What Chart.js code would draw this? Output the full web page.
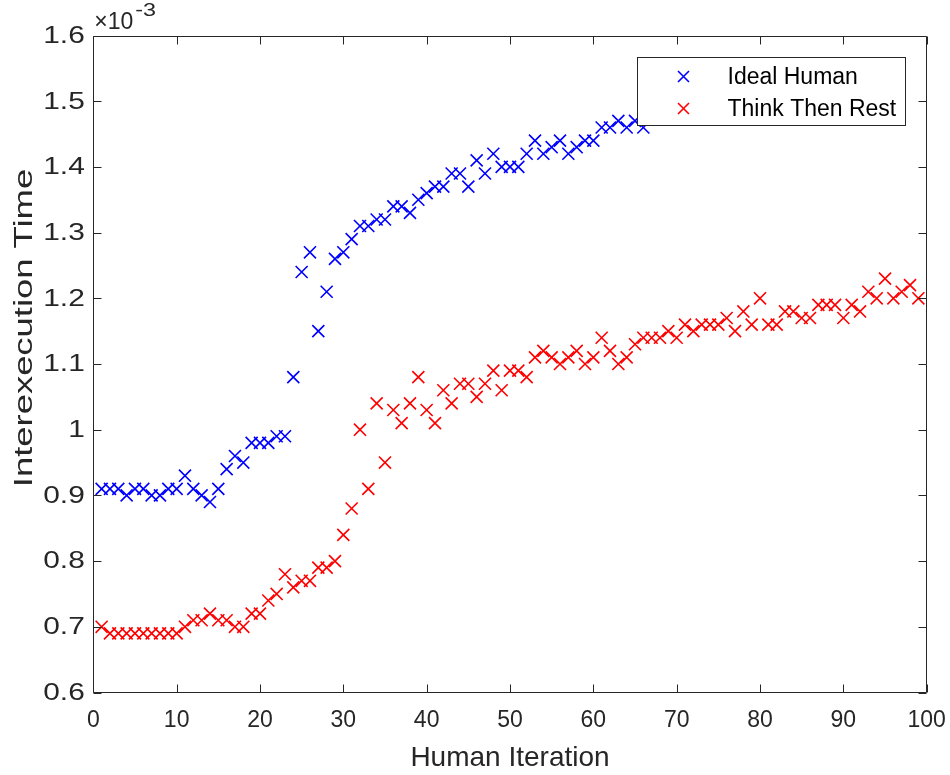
<!DOCTYPE html>
<html>
<head>
<meta charset="utf-8">
<script src="https://cdn.jsdelivr.net/npm/chart.js@4.4.1/dist/chart.umd.min.js"></script>
<style>
html,body{margin:0;padding:0;background:#fff;}
#wrap{width:950px;height:775px;position:relative;}
canvas{display:block;}
</style>
</head>
<body>
<div id="wrap"><canvas id="c" width="950" height="775"></canvas></div>
<script>
// Human iteration index (x)
const iterations = [1,2,3,4,5,6,7,8,9,10,11,12,13,14,15,16,17,18,19,20,
  21,22,23,24,25,26,27,28,29,30,31,32,33,34,35,36,37,38,39,40,
  41,42,43,44,45,46,47,48,49,50,51,52,53,54,55,56,57,58,59,60,
  61,62,63,64,65,66,67,68,69,70,71,72,73,74,75,76,77,78,79,80,
  81,82,83,84,85,86,87,88,89,90,91,92,93,94,95,96,97,98,99];

// Interexecution time, in units of 1e-3
const idealHuman = [0.91,0.91,0.91,0.90,0.91,0.91,0.90,0.90,0.91,0.91,
  0.93,0.91,0.90,0.89,0.91,0.94,0.96,0.95,0.98,0.98,
  0.98,0.99,0.99,1.08,1.24,1.27,1.15,1.21,1.26,1.27,
  1.29,1.31,1.31,1.32,1.32,1.34,1.34,1.33,1.35,1.36,
  1.37,1.37,1.39,1.39,1.37,1.41,1.39,1.42,1.40,1.40,
  1.40,1.42,1.44,1.42,1.43,1.44,1.42,1.43,1.44,1.44,
  1.46,1.46,1.47,1.46,1.47,1.46];

const thinkThenRest = [0.70,0.69,0.69,0.69,0.69,0.69,0.69,0.69,0.69,0.69,
  0.70,0.71,0.71,0.72,0.71,0.71,0.70,0.70,0.72,0.72,
  0.74,0.75,0.78,0.76,0.77,0.77,0.79,0.79,0.80,0.84,
  0.88,1.00,0.91,1.04,0.95,1.03,1.01,1.04,1.08,1.03,
  1.01,1.06,1.04,1.07,1.07,1.05,1.07,1.09,1.06,1.09,
  1.09,1.08,1.11,1.12,1.11,1.10,1.11,1.12,1.10,1.11,
  1.14,1.12,1.10,1.11,1.13,1.14,1.14,1.14,1.15,1.14,
  1.16,1.15,1.16,1.16,1.16,1.17,1.15,1.18,1.16,1.20,
  1.16,1.16,1.18,1.18,1.17,1.17,1.19,1.19,1.19,1.17,
  1.19,1.18,1.21,1.20,1.23,1.20,1.21,1.22,1.20];

const seriesNames = ['Ideal Human', 'Think Then Rest'];
const seriesColors = ['#0000ff', '#ff0000'];
const xTitle = 'Human Iteration';
const yTitle = 'Interexecution Time';
const yExponent = '-3';

const FONT = "'Liberation Sans', Arial, Helvetica, sans-serif";
const AXIS = '#262626';

function toPoints(xs, ys) { return ys.map((v, i) => ({x: xs[i], y: v})); }

const boxPlugin = {
  id: 'matlabBox',
  afterDatasetsDraw(chart) {
    const ctx = chart.ctx;
    const a = chart.chartArea;
    const xs = chart.scales.x, ys = chart.scales.y;
    const L = Math.round(a.left) + 0.5, R = Math.round(a.right) - 0.5;
    const T = Math.round(a.top) + 0.5, B = Math.round(a.bottom) - 0.5;
    const tl = 8;
    ctx.save();
    ctx.strokeStyle = AXIS;
    ctx.lineWidth = 1;
    ctx.beginPath();
    ctx.rect(L, T, R - L, B - T);
    xs.ticks.forEach(t => {
      const p = Math.round(xs.getPixelForValue(t.value)) + 0.5;
      ctx.moveTo(p, B); ctx.lineTo(p, B - tl);
      ctx.moveTo(p, T); ctx.lineTo(p, T + tl);
    });
    ys.ticks.forEach(t => {
      const p = Math.round(ys.getPixelForValue(t.value)) + 0.5;
      ctx.moveTo(L, p); ctx.lineTo(L + tl, p);
      ctx.moveTo(R, p); ctx.lineTo(R - tl, p);
    });
    ctx.stroke();

    // y tick labels (wide glyphs, right-aligned)
    ctx.fillStyle = AXIS;
    ctx.font = '23px ' + FONT;
    ctx.textAlign = 'right';
    ctx.textBaseline = 'middle';
    ys.ticks.forEach(t => {
      const p = ys.getPixelForValue(t.value);
      ctx.save();
      ctx.translate(a.left - 8.5, p + 1);
      ctx.scale(1.3, 1);
      ctx.fillText(t.label, 0, 0);
      ctx.restore();
    });

    // y title (stretched along its length)
    ctx.save();
    ctx.font = '26px ' + FONT;
    ctx.textAlign = 'center';
    ctx.textBaseline = 'middle';
    ctx.translate(25, 328);
    ctx.rotate(-Math.PI / 2);
    ctx.scale(1.4, 1);
    ctx.fillText(yTitle, 0, 0);
    ctx.restore();

    // exponent label
    ctx.textBaseline = 'alphabetic';
    ctx.textAlign = 'left';
    ctx.font = '23px ' + FONT;
    const base = '\u00d710';
    ctx.fillText(base, a.left + 1, a.top - 7);
    const w = ctx.measureText(base).width;
    ctx.save();
    ctx.translate(a.left + 3 + w, a.top - 20);
    ctx.scale(1.3, 1);
    ctx.font = '18px ' + FONT;
    ctx.fillText(yExponent, 0, 0);
    ctx.restore();

    // legend (opaque box, top-right inside axes)
    const bw = 268, bh = 68;
    const bx = Math.round(a.right - 22 - bw) + 0.5;
    const by = Math.round(a.top + 21) + 0.5;
    ctx.fillStyle = '#ffffff';
    ctx.fillRect(bx, by, bw, bh);
    ctx.strokeStyle = AXIS;
    ctx.lineWidth = 1;
    ctx.strokeRect(bx, by, bw, bh);
    chart.data.datasets.forEach((ds, i) => {
      const cy = by + 19 + i * 32;
      const cx = bx + 46;
      const r = 5.5;
      ctx.strokeStyle = ds.borderColor;
      ctx.lineWidth = 1.6;
      ctx.beginPath();
      ctx.moveTo(cx - r, cy - r); ctx.lineTo(cx + r, cy + r);
      ctx.moveTo(cx - r, cy + r); ctx.lineTo(cx + r, cy - r);
      ctx.stroke();
      ctx.fillStyle = '#000000';
      ctx.font = '23px ' + FONT;
      ctx.textBaseline = 'middle';
      ctx.fillText(ds.label, bx + 90, cy + 1);
    });
    ctx.restore();
  }
};

const chart = new Chart(document.getElementById('c'), {
  type: 'scatter',
  data: {
    datasets: [
      {label: seriesNames[0], data: toPoints(iterations, idealHuman),
       borderColor: seriesColors[0], backgroundColor: seriesColors[0],
       pointStyle: 'crossRot', pointRadius: 8.5, pointBorderWidth: 1.6, pointHoverRadius: 8.5},
      {label: seriesNames[1], data: toPoints(iterations, thinkThenRest),
       borderColor: seriesColors[1], backgroundColor: seriesColors[1],
       pointStyle: 'crossRot', pointRadius: 8.5, pointBorderWidth: 1.6, pointHoverRadius: 8.5}
    ]
  },
  options: {
    responsive: false,
    animation: false,
    devicePixelRatio: 1,
    layout: {padding: {top: 35.5, right: 23.3, left: 0, bottom: 0}},
    plugins: {legend: {display: false}, tooltip: {enabled: false}},
    scales: {
      x: {
        type: 'linear', min: 0, max: 100,
        afterFit(s) { s.height = 82.5; },
        ticks: {stepSize: 10, color: AXIS, padding: 0, font: {family: FONT, size: 23}},
        grid: {display: false, drawTicks: true, tickLength: 14},
        border: {display: false},
        title: {display: true, text: xTitle, color: AXIS, font: {family: FONT, size: 28},
                padding: {top: 0, bottom: 0}}
      },
      y: {
        type: 'linear', min: 0.6, max: 1.6,
        afterFit(s) { s.width = 93.3; },
        ticks: {display: false, stepSize: 0.1, color: AXIS, font: {family: FONT, size: 23},
                callback: v => String(Math.round(v * 10) / 10)},
        grid: {display: false, drawTicks: false},
        border: {display: false},
        title: {display: false, text: yTitle}
      }
    }
  },
  plugins: [boxPlugin]
});
</script>
</body>
</html>
